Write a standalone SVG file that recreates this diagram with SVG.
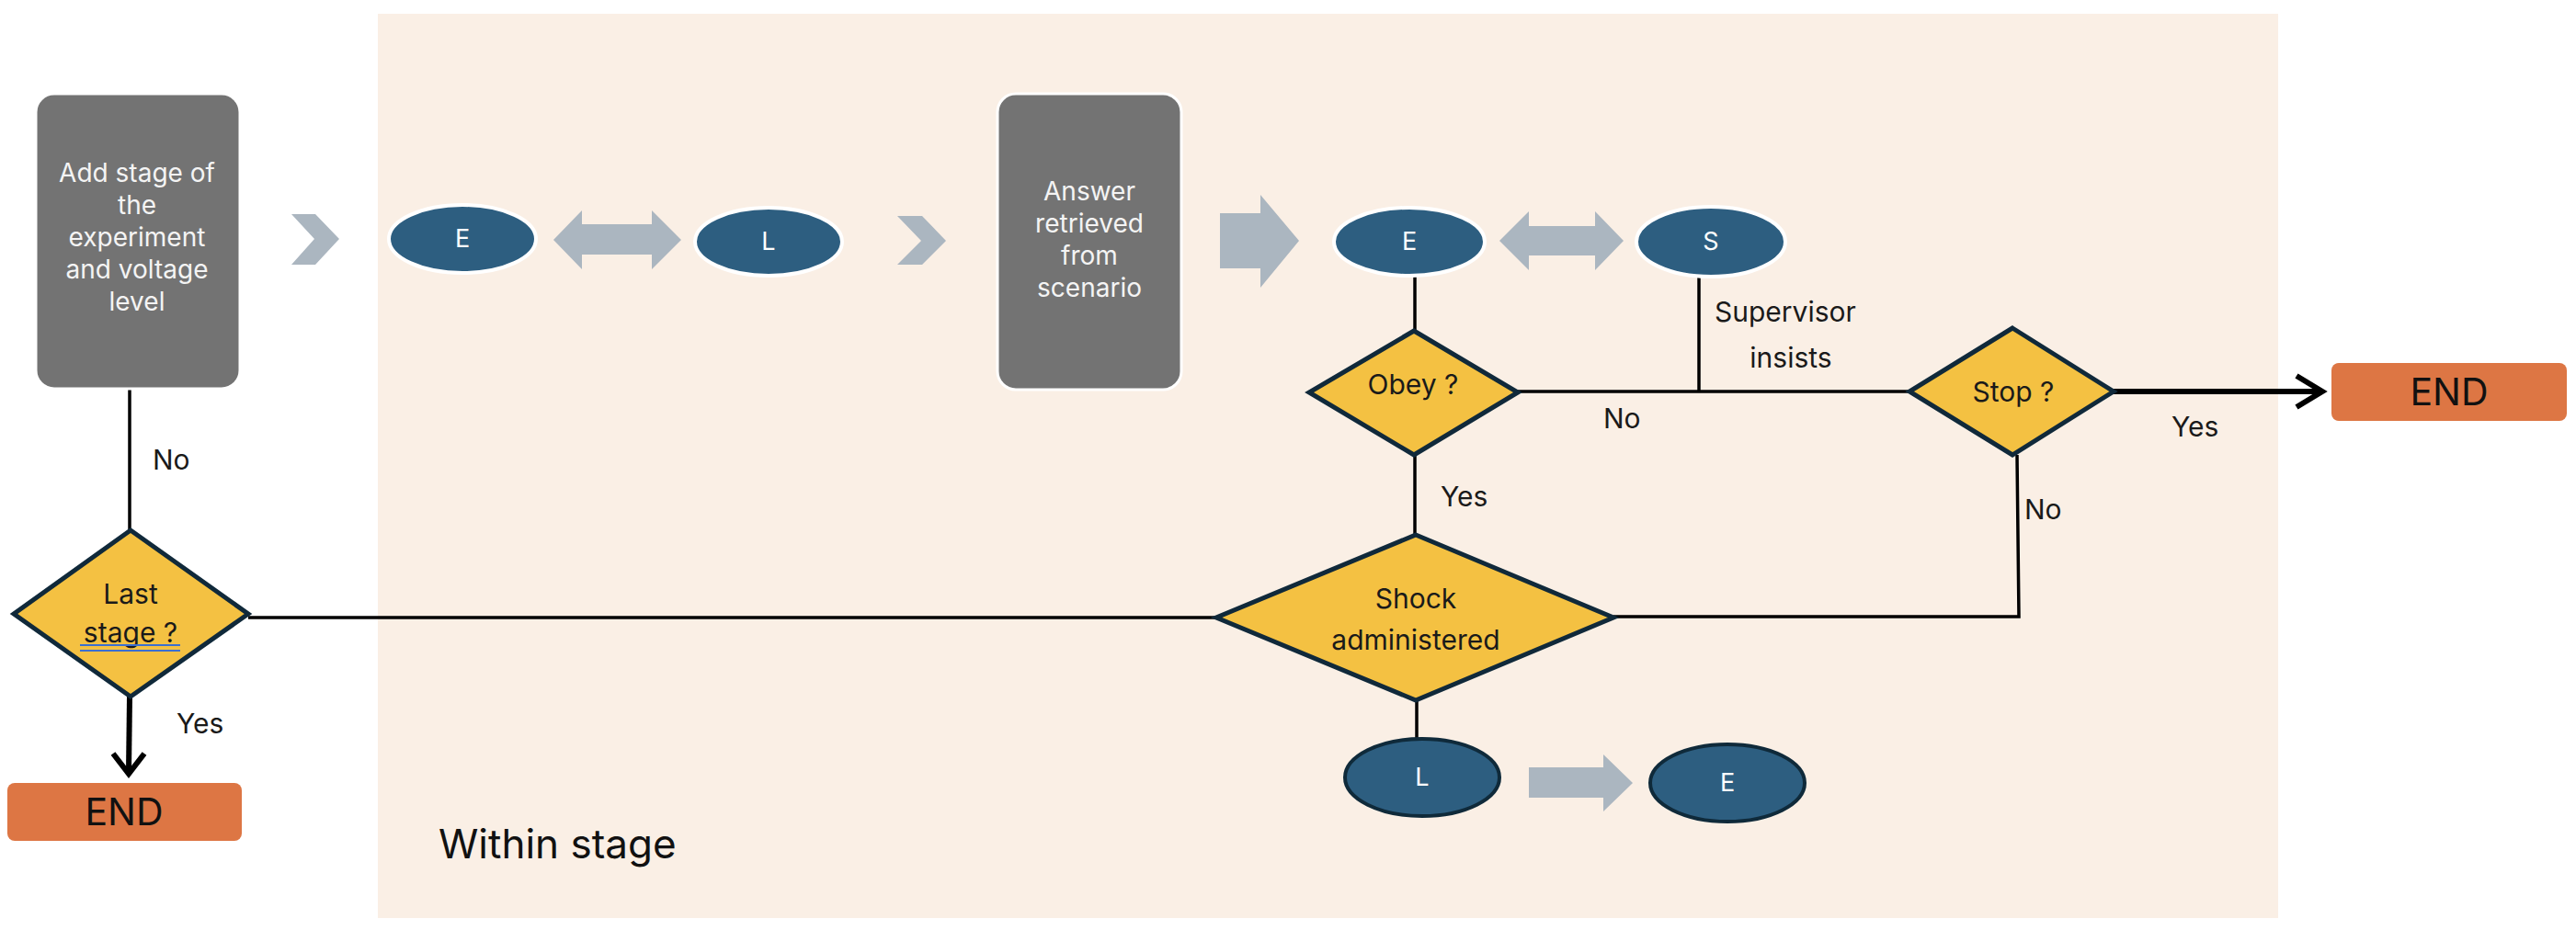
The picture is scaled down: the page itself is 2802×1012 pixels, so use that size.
<svg xmlns="http://www.w3.org/2000/svg" width="2802" height="1012" viewBox="0 0 2802 1012">
<style>
text{font-family:Inter,"Liberation Sans",Arial,sans-serif;}
.box{fill:#737373;stroke:#ffffff;stroke-width:3;}
.boxt{fill:#f4f4f4;font-size:28px;text-anchor:middle;}
.ell{fill:#2d5e80;stroke:#ffffff;stroke-width:4;}
.ell2{fill:#2d5e80;stroke:#0f2a3a;stroke-width:4;}
.ellt{fill:#ffffff;font-size:27px;text-anchor:middle;}
.dia{fill:#f4c142;stroke:#10293a;stroke-width:5;stroke-linejoin:miter;}
.diat{fill:#1a1a1a;font-size:30px;text-anchor:middle;}
.arr{fill:#abb6c0;}
.end{fill:#dd7644;}
.endt{fill:#111111;font-size:41px;text-anchor:middle;}
.lbl{fill:#1a1a1a;font-size:30px;}
.ln{fill:none;stroke:#000000;stroke-width:3.5;}
.thick{fill:none;stroke:#000000;stroke-width:6;}
</style>
<rect x="411" y="15" width="2067" height="984" fill="#faefe5"/>
<text x="477" y="934" fill="#111111" style="font-size:44px">Within stage</text>

<g id="connectors">
<line class="ln" x1="141" y1="420" x2="141" y2="577"/>
<line class="ln" x1="1539" y1="298" x2="1539" y2="360"/>
<line class="ln" x1="1848" y1="298" x2="1848" y2="426"/>
<line class="ln" x1="1651" y1="426" x2="2077" y2="426"/>
<line class="thick" x1="2299" y1="426" x2="2524" y2="426"/>
<polyline class="thick" points="2498,409 2526,426 2498,443"/>
<line class="ln" x1="1539" y1="495" x2="1539" y2="582"/>
<polyline class="ln" points="2194,495 2196,671 1755,671"/>
<line class="ln" x1="1323" y1="672" x2="270" y2="672"/>
<line class="thick" x1="141" y1="758" x2="140" y2="840"/>
<polyline class="thick" points="123,820 140,842 157,820"/>
<line class="ln" x1="1541" y1="763" x2="1541" y2="805"/>
</g>

<g id="arrows">
<path class="arr" d="M317,233 L343,233 L369,260 L343,288 L317,288 L342,260 Z"/>
<path class="arr" d="M602,261 L633,229 L633,244 L709,244 L709,229 L741,261 L709,293 L709,277 L633,277 L633,293 Z"/>
<path class="arr" d="M976,235 L1003,235 L1029,262 L1003,288 L976,288 L1002,262 Z"/>
<path class="arr" d="M1327,232 L1371,232 L1371,212 L1413,262 L1371,313 L1371,292 L1327,292 Z"/>
<path class="arr" d="M1631,262 L1663,230 L1663,246 L1735,246 L1735,230 L1766,262 L1735,294 L1735,278 L1663,278 L1663,294 Z"/>
<path class="arr" d="M1663,835 L1744,835 L1744,821 L1776,852 L1744,883 L1744,868 L1663,868 Z"/>
</g>

<g id="node-add-stage">
<rect class="box" x="39" y="102" width="222" height="321" rx="20"/>
<text class="boxt" x="149" y="198">Add stage of</text>
<text class="boxt" x="149" y="233">the</text>
<text class="boxt" x="149" y="268">experiment</text>
<text class="boxt" x="149" y="303">and voltage</text>
<text class="boxt" x="149" y="338">level</text>
</g>

<g id="node-E1"><ellipse class="ell" cx="503" cy="260" rx="80" ry="37"/><text class="ellt" x="503" y="269">E</text></g>
<g id="node-L1"><ellipse class="ell" cx="836" cy="263" rx="80" ry="37"/><text class="ellt" x="836" y="272">L</text></g>

<g id="node-answer">
<rect class="box" x="1085" y="102" width="200" height="322" rx="20"/>
<text class="boxt" x="1185" y="218">Answer</text>
<text class="boxt" x="1185" y="253">retrieved</text>
<text class="boxt" x="1185" y="288">from</text>
<text class="boxt" x="1185" y="323">scenario</text>
</g>

<g id="node-E2"><ellipse class="ell" cx="1533" cy="263" rx="82" ry="37"/><text class="ellt" x="1533" y="272">E</text></g>
<g id="node-S"><ellipse class="ell" cx="1861" cy="263" rx="81" ry="38"/><text class="ellt" x="1861" y="272">S</text></g>

<g id="node-obey">
<polygon class="dia" points="1538,360 1651,427 1538,495 1424,427"/>
<text class="diat" x="1537" y="429">Obey ?</text>
</g>

<g id="node-stop">
<polygon class="dia" points="2189,357 2299,426 2189,495 2077,426"/>
<text class="diat" x="2190" y="437">Stop ?</text>
</g>

<g id="node-end-right">
<rect class="end" x="2536" y="395" width="256" height="63" rx="8"/>
<text class="endt" x="2664" y="441">END</text>
</g>

<g id="node-shock">
<polygon class="dia" points="1540,582 1755,672 1540,762 1323,672"/>
<text class="diat" x="1540" y="662">Shock</text>
<text class="diat" x="1540" y="707">administered</text>
</g>

<g id="node-L2"><ellipse class="ell2" cx="1547" cy="846" rx="84" ry="42"/><text class="ellt" x="1547" y="855">L</text></g>
<g id="node-E3"><ellipse class="ell2" cx="1879" cy="852" rx="84" ry="42"/><text class="ellt" x="1879" y="861">E</text></g>

<g id="node-last">
<polygon class="dia" points="142,577 270,668 142,758 15,668"/>
<text class="diat" x="142" y="657">Last</text>
<text class="diat" x="142" y="699">stage ?</text>
<line x1="87" y1="702" x2="196" y2="702" stroke="#3b6fd0" stroke-width="2"/>
<line x1="87" y1="708" x2="196" y2="708" stroke="#3b6fd0" stroke-width="2"/>
</g>

<g id="node-end-left">
<rect class="end" x="8" y="852" width="255" height="63" rx="8"/>
<text class="endt" x="135" y="898">END</text>
</g>

<g id="labels">
<text class="lbl" x="166" y="511">No</text>
<text class="lbl" x="192" y="798">Yes</text>
<text class="lbl" x="1567" y="551">Yes</text>
<text class="lbl" x="1744" y="466">No</text>
<text class="lbl" x="1865" y="350">Supervisor</text>
<text class="lbl" x="1948" y="400" text-anchor="middle">insists</text>
<text class="lbl" x="2362" y="475">Yes</text>
<text class="lbl" x="2202" y="565">No</text>
</g>
</svg>
